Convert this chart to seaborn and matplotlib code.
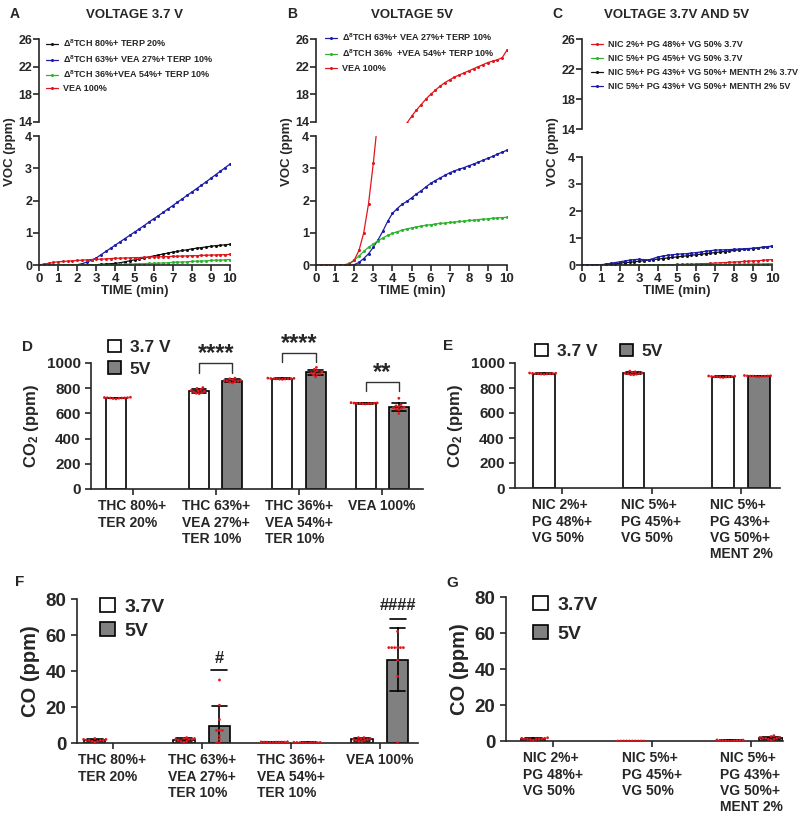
import warnings
import numpy as np
import pandas as pd
import matplotlib
matplotlib.use('Agg')
import matplotlib.pyplot as plt
from matplotlib.patches import Patch
import seaborn as sns

warnings.filterwarnings('ignore')

sns.set_style('ticks')
plt.rcParams['font.family'] = ['Liberation Sans', 'DejaVu Sans']
plt.rcParams['font.weight'] = 'bold'
plt.rcParams['axes.labelweight'] = 'bold'
plt.rcParams['mathtext.fontset'] = 'custom'
plt.rcParams['mathtext.rm'] = 'Liberation Sans:bold'
plt.rcParams['mathtext.bf'] = 'Liberation Sans:bold'
plt.rcParams['mathtext.it'] = 'Liberation Sans:bold:italic'
plt.rcParams['axes.linewidth'] = 1.2
plt.rcParams['xtick.major.width'] = 1.2
plt.rcParams['ytick.major.width'] = 1.2
plt.rcParams['xtick.major.size'] = 4
plt.rcParams['ytick.major.size'] = 4

#%%
# VOC time courses (ppm), one reading every 0.25 min
time_min = np.linspace(0, 10, 41)

# panel A - 3.7 V
a_thc80 = [0, 0, 0, 0, 0, 0, 0, 0, 0, 0, 0, 0.01, 0.01, 0.02, 0.03, 0.04, 0.05, 0.07, 0.1, 0.13,
           0.16, 0.19, 0.22, 0.25, 0.28, 0.31, 0.34, 0.37, 0.4, 0.42, 0.45, 0.47, 0.5, 0.52, 0.54, 0.56,
           0.58, 0.6, 0.61, 0.63, 0.64]
a_thc63 = [0, 0, 0, 0, 0, 0, 0, 0, 0.01, 0.04, 0.09, 0.15, 0.22, 0.32, 0.42, 0.52, 0.62, 0.72, 0.82, 0.92,
           1.02, 1.12, 1.22, 1.33, 1.43, 1.53, 1.63, 1.74, 1.84, 1.95, 2.05, 2.16, 2.26, 2.37, 2.47, 2.58,
           2.69, 2.8, 2.91, 3.02, 3.13]
a_thc36 = [0, 0, 0, 0, 0, 0, 0, 0, 0, 0, 0, 0, 0, 0, 0, 0.01, 0.01, 0.02, 0.02, 0.03,
           0.03, 0.04, 0.04, 0.05, 0.05, 0.06, 0.06, 0.07, 0.08, 0.09, 0.09, 0.1, 0.11, 0.12, 0.12, 0.13,
           0.14, 0.15, 0.15, 0.16, 0.17]
a_vea = [0, 0.03, 0.05, 0.08, 0.1, 0.11, 0.12, 0.13, 0.14, 0.15, 0.16, 0.17, 0.18, 0.18, 0.19, 0.2,
         0.21, 0.21, 0.22, 0.22, 0.23, 0.23, 0.24, 0.24, 0.25, 0.25, 0.26, 0.26, 0.27, 0.27, 0.28, 0.28,
         0.29, 0.29, 0.3, 0.3, 0.31, 0.31, 0.32, 0.32, 0.33]

# panel B - 5 V
b_thc63 = [0, 0, 0, 0, 0, 0, 0, 0, 0.01, 0.08, 0.2, 0.35, 0.55, 0.78, 1.05, 1.35, 1.6, 1.75, 1.88, 1.97,
           2.08, 2.2, 2.3, 2.42, 2.53, 2.62, 2.7, 2.78, 2.86, 2.92, 2.97, 3.02, 3.08, 3.13, 3.19, 3.25,
           3.31, 3.37, 3.44, 3.5, 3.56]
b_thc36 = [0, 0, 0, 0, 0, 0, 0.01, 0.05, 0.15, 0.28, 0.42, 0.55, 0.65, 0.75, 0.84, 0.92, 0.98, 1.03, 1.08, 1.12,
           1.15, 1.18, 1.21, 1.23, 1.25, 1.27, 1.29, 1.3, 1.32, 1.33, 1.35, 1.36, 1.38, 1.39, 1.41, 1.42,
           1.43, 1.45, 1.46, 1.47, 1.48]
b_vea = [0, 0, 0, 0, 0, 0, 0, 0.03, 0.15, 0.45, 1.0, 1.9, 3.15, 4.6, 6.3, 8.0, 9.7, 11.2, 12.6, 13.8,
         14.8, 15.7, 16.5, 17.3, 18.0, 18.6, 19.2, 19.7, 20.1, 20.5, 20.8, 21.1, 21.4, 21.7, 22.0, 22.3,
         22.6, 22.8, 23.0, 23.3, 24.4]

# panel C - nicotine liquids
c_nic2 = [0] * 18 + [0.01, 0.01, 0.02, 0.02, 0.03, 0.03, 0.04, 0.05, 0.05, 0.06, 0.07, 0.08, 0.09, 0.1,
                     0.11, 0.12, 0.13, 0.14, 0.15, 0.16, 0.17, 0.19, 0.2]
c_nic5 = [0] * 24 + [0.01, 0.01, 0.01, 0.01, 0.02, 0.02, 0.02, 0.02, 0.03, 0.03, 0.03, 0.03, 0.04,
                     0.04, 0.04, 0.05, 0.05]
c_ment37 = [0, 0, 0, 0, 0.01, 0.02, 0.03, 0.05, 0.07, 0.09, 0.1, 0.12, 0.14, 0.16, 0.18, 0.2, 0.22, 0.24,
            0.26, 0.28, 0.3, 0.32, 0.34, 0.36, 0.38, 0.4, 0.42, 0.44, 0.46, 0.48, 0.5, 0.52, 0.54, 0.56,
            0.58, 0.6, 0.61, 0.63, 0.65, 0.67, 0.69]
c_ment5 = [0, 0, 0, 0, 0.01, 0.03, 0.06, 0.09, 0.12, 0.15, 0.18, 0.2, 0.21, 0.2, 0.19, 0.24, 0.3, 0.33,
           0.36, 0.38, 0.4, 0.41, 0.42, 0.44, 0.46, 0.48, 0.51, 0.53, 0.55, 0.56, 0.56, 0.57, 0.58, 0.59,
           0.6, 0.61, 0.62, 0.64, 0.66, 0.68, 0.7]

D8 = '\u0394$^{8}$'
a_labels = [D8 + 'TCH 80%+ TERP 20%', D8 + 'TCH 63%+ VEA 27%+ TERP 10%',
            D8 + 'TCH 36%+VEA 54%+ TERP 10%', 'VEA 100%']
b_labels = [D8 + 'TCH 63%+ VEA 27%+ TERP 10%', D8 + 'TCH 36%  +VEA 54%+ TERP 10%', 'VEA 100%']
c_labels = ['NIC 2%+ PG 48%+ VG 50% 3.7V', 'NIC 5%+ PG 45%+ VG 50% 3.7V',
            'NIC 5%+ PG 43%+ VG 50%+ MENTH 2% 3.7V', 'NIC 5%+ PG 43%+ VG 50%+ MENTH 2% 5V']

BLACK, BLUE, GREEN, RED = '#111111', '#1c1ca8', '#2cb52c', '#e0161c'

#%%
# CO2 / CO replicate readings (ppm)
thc_cats = ['THC 80%+\nTER 20%', 'THC 63%+\nVEA 27%+\nTER 10%', 'THC 36%+\nVEA 54%+\nTER 10%', 'VEA 100%']
nic_cats = ['NIC 2%+\nPG 48%+\nVG 50%', 'NIC 5%+\nPG 45%+\nVG 50%', 'NIC 5%+\nPG 43%+\nVG 50%+\nMENT 2%']

co2_thc_37 = [[715, 718, 720, 722, 722, 723, 724, 725, 726, 728],
              [805, 798, 790, 782, 778, 775, 770, 765, 760, 757],
              [870, 872, 873, 874, 875, 875, 876, 877, 878, 880],
              [675, 677, 678, 679, 680, 680, 681, 682, 683, 685]]
co2_thc_5 = [[],
             [880, 875, 868, 862, 860, 858, 855, 852, 848, 842],
             [965, 950, 940, 930, 925, 920, 915, 910, 905, 890],
             [720, 670, 660, 655, 650, 645, 640, 635, 630, 600]]
co2_nic_37 = [[910, 912, 913, 914, 915, 915, 916, 917, 918, 920],
              [935, 930, 925, 920, 918, 916, 914, 910, 907, 905],
              [884, 886, 888, 889, 890, 890, 891, 892, 894, 896]]
co2_nic_5 = [[], [], [890, 892, 893, 894, 895, 895, 896, 897, 898, 900]]

co_thc_37 = [[0.5, 1, 1, 1.5, 1.5, 1.5, 1.5, 2, 2, 2.5],
             [0.5, 1, 1, 1.5, 2, 2, 2, 2.5, 2.5, 3],
             [0.3, 0.4, 0.5, 0.5, 0.5, 0.5, 0.5, 0.5, 0.6, 0.7],
             [1, 1, 1.5, 1.5, 2, 2, 2.5, 2.5, 3, 3]]
co_thc_5 = [[],
            [35, 21, 13, 7, 7, 7, 4, 2, 0, 0],
            [0, 0, 0.1, 0.1, 0.2, 0.2, 0.2, 0.3, 0.3, 0.4],
            [62, 53, 53, 53, 53, 53, 53, 46, 37, 0]]
co_nic_37 = [[0.5, 0.8, 1, 1, 1, 1.2, 1.2, 1.5, 1.5, 1.8],
             [0, 0, 0, 0, 0, 0, 0, 0, 0, 0],
             [0, 0, 0.2, 0.2, 0.3, 0.3, 0.4, 0.4, 0.5, 0.6]]
co_nic_5 = [[], [], [0.5, 1, 1, 1.5, 1.5, 1.5, 2, 2, 2.5, 3]]

# significance marks: (category, text, bracket top, bracket foot, text y)
sig_d = [(1, '****', 1000, 920, 1075), (2, '****', 1080, 1005, 1155), (3, '**', 850, 775, 925)]
sig_f = [(1, '#', 40.5, 47), (3, '####', 69, 76.5)]

#%%
W, H = 800, 818
fig = plt.figure(figsize=(W / 100, H / 100), dpi=100)


def add_ax(x0, y0, x1, y1):
    return fig.add_axes([x0 / W, 1 - y1 / H, (x1 - x0) / W, (y1 - y0) / H])


def ftext(x, y, s, **kw):
    fig.text(x / W, 1 - y / H, s, fontweight='bold', **kw)


def voc_panel(box_top, box_bot, series, labels, colors, legend_anchor, spacing):
    ax_t = add_ax(*box_top)
    ax_b = add_ax(*box_bot)
    for vals, lab, col in zip(series, labels, colors):
        sns.lineplot(x=time_min, y=vals, color=col, marker='o', markersize=2.2, mew=0,
                     linewidth=0.9, ax=ax_t, label=lab)
        sns.lineplot(x=time_min, y=vals, color=col, marker='o', markersize=2.2, mew=0,
                     linewidth=0.9, ax=ax_b)
    ax_t.set_ylim(14, 26)
    ax_t.set_yticks([14, 18, 22, 26])
    ax_t.set_xlim(0, 10)
    ax_t.set_xticks([])
    for s in ['top', 'right', 'bottom']:
        ax_t.spines[s].set_visible(False)
    ax_b.set_ylim(0, 4)
    ax_b.set_yticks(range(5))
    ax_b.set_xlim(0, 10)
    ax_b.set_xticks(range(11))
    sns.despine(ax=ax_b)
    for ax in (ax_t, ax_b):
        ax.tick_params(axis='y', labelsize=9, pad=1)
        ax.tick_params(axis='x', labelsize=9.5, pad=2)
        ax.set_xlabel('')
        ax.set_ylabel('')
    ax_t.legend(loc='upper left', bbox_to_anchor=legend_anchor, frameon=False,
                handlelength=1.3, handletextpad=0.5, labelspacing=spacing, borderaxespad=0,
                prop={'weight': 'bold', 'size': 6.5})
    if ax_b.get_legend() is not None:
        ax_b.get_legend().remove()
    return ax_t, ax_b


voc_panel((39, 39, 230, 122), (39, 136, 230, 265), [a_thc80, a_thc63, a_thc36, a_vea], a_labels,
          [BLACK, BLUE, GREEN, RED], (0.02, 1.06), 0.42)
voc_panel((316, 39, 507, 122), (316, 136, 507, 265), [b_thc63, b_thc36, b_vea], b_labels,
          [BLUE, GREEN, RED], (0.03, 1.14), 0.55)
voc_panel((582, 39, 772, 129), (582, 157, 772, 265), [c_nic2, c_nic5, c_ment37, c_ment5], c_labels,
          [RED, GREEN, BLACK, BLUE], (0.03, 1.03), 0.55)

for letter, lx, title, tx in [('A', 10, 'VOLTAGE 3.7 V', 134), ('B', 287, 'VOLTAGE 5V', 412),
                              ('C', 552, 'VOLTAGE 3.7V AND 5V', 677)]:
    ftext(lx, 14, letter, fontsize=10, va='center', ha='left')
    ftext(tx, 15, title, fontsize=9.5, va='center', ha='center')
for x_lab, x_time in [(10, 135), (287, 412), (553, 677)]:
    ftext(x_lab, 152, 'VOC (ppm)', fontsize=9.5, rotation=90, va='center', ha='center')
    ftext(x_time, 291, 'TIME (min)', fontsize=9.5, va='center', ha='center')


#%%
def make_long(cats, s37, s5):
    rows = []
    for c, a, b in zip(cats, s37, s5):
        rows += [(c, '3.7', v) for v in a]
        rows += [(c, '5', v) for v in b]
    return pd.DataFrame(rows, columns=['cat', 'volt', 'val'])


def bar_panel(box, xlim, cats, s37, s5, ylim, yticks, ytick_fs, cat_fs, ylabel, ylabel_fs):
    ax = add_ax(*box)
    df = make_long(cats, s37, s5)
    sns.barplot(data=df, x='cat', y='val', hue='volt', order=cats, hue_order=['3.7', '5'],
                palette={'3.7': 'white', '5': '#808080'}, errorbar='sd', capsize=0.35,
                err_kws={'color': 'black', 'linewidth': 1.2}, width=0.8, gap=0.4,
                edgecolor='black', linewidth=1.2, legend=False, ax=ax)
    sns.swarmplot(data=df, x='cat', y='val', hue='volt', order=cats, hue_order=['3.7', '5'],
                  palette={'3.7': RED, '5': RED}, dodge=True, size=2, legend=False, ax=ax)
    ax.set_xlim(*xlim)
    ax.set_ylim(*ylim)
    ax.set_yticks(yticks)
    ax.tick_params(axis='y', labelsize=ytick_fs)
    ax.tick_params(axis='x', labelsize=cat_fs)
    for t in ax.get_xticklabels():
        t.set_multialignment('left')
    ax.set_xlabel('')
    ax.set_ylabel(ylabel, fontsize=ylabel_fs)
    sns.despine(ax=ax)
    return ax


def volt_legend(ax, labels, fs, anchor, ncol=1, colspacing=2.0, spacing=0.35, hsize=0.75):
    handles = [Patch(facecolor='white', edgecolor='black', linewidth=1.2),
               Patch(facecolor='#808080', edgecolor='black', linewidth=1.2)]
    ax.legend(handles, labels, loc='upper left', bbox_to_anchor=anchor, frameon=False, ncol=ncol,
              prop={'weight': 'bold', 'size': fs}, handlelength=hsize, handleheight=hsize,
              handletextpad=0.5, labelspacing=spacing, borderaxespad=0, columnspacing=colspacing)


ax_d = bar_panel((91, 363, 423, 489), (-0.5, 3.49), thc_cats, co2_thc_37, co2_thc_5,
                 (0, 1000), range(0, 1001, 200), 11, 10, 'CO$_{2}$ (ppm)', 12)
volt_legend(ax_d, ['3.7 V', '5V'], 12.5, (0.03, 1.24))
for i, txt, top, foot, ty in sig_d:
    ax_d.plot([i - 0.2, i - 0.2, i + 0.2, i + 0.2], [foot, top, top, foot], color='#333333', lw=1,
              clip_on=False)
    ax_d.text(i, ty, txt, ha='center', va='center', fontsize=17, fontweight='bold')

ax_e = bar_panel((515, 363, 780, 488), (-0.525, 2.435), nic_cats, co2_nic_37, co2_nic_5,
                 (0, 1000), range(0, 1001, 200), 11, 10, 'CO$_{2}$ (ppm)', 12)
volt_legend(ax_e, ['3.7 V', '5V'], 12.5, (0.05, 1.21), ncol=2, colspacing=1.3)

ax_f = bar_panel((77, 599, 418, 743), (-0.40, 3.43), thc_cats, co_thc_37, co_thc_5,
                 (0, 80), range(0, 81, 20), 13.5, 10, 'CO (ppm)', 14.5)
volt_legend(ax_f, ['3.7V', '5V'], 14, (0.045, 1.06), spacing=0.3)
for i, txt, line_y, ty in sig_f:
    ax_f.plot([i + 0.11, i + 0.29], [line_y, line_y], color='black', lw=1.2)
    ax_f.text(i + 0.2, ty, txt, ha='center', va='center', fontsize=12, fontweight='bold')

ax_g = bar_panel((506, 597, 783, 741), (-0.475, 2.32), nic_cats, co_nic_37, co_nic_5,
                 (0, 80), range(0, 81, 20), 13.5, 10, 'CO (ppm)', 14.5)
volt_legend(ax_g, ['3.7V', '5V'], 14, (0.07, 1.06), spacing=0.55)

for letter, lx, ly in [('D', 22, 347), ('E', 443, 346), ('F', 15, 582), ('G', 446, 583)]:
    ftext(lx, ly, letter, fontsize=11, va='center', ha='left')

fig.savefig('out.png', dpi=100)
